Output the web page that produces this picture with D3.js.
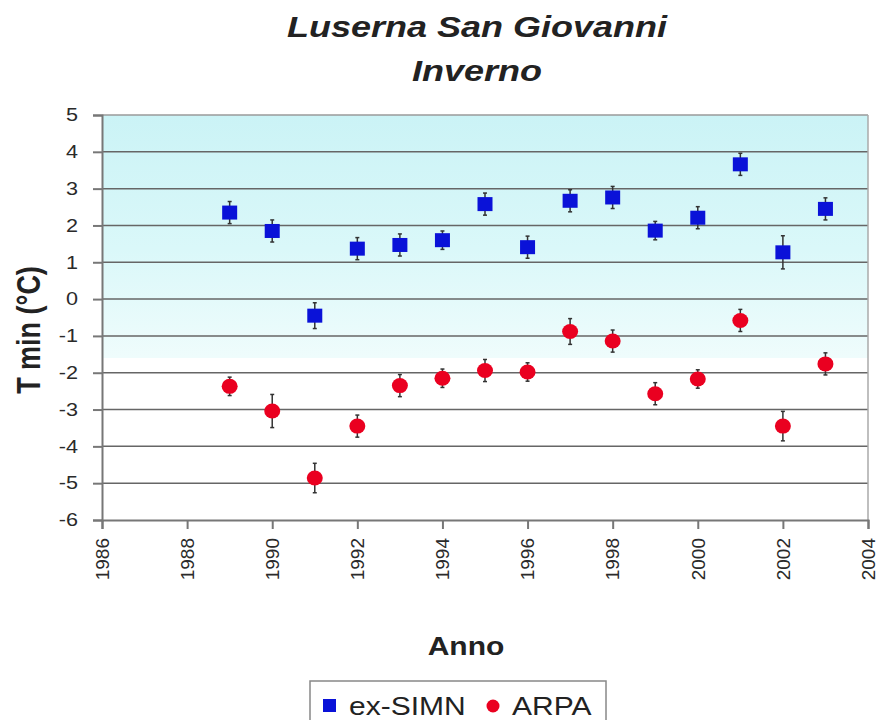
<!DOCTYPE html>
<html>
<head>
<meta charset="utf-8">
<script src="https://cdnjs.cloudflare.com/ajax/libs/d3/7.8.5/d3.min.js"></script>
<style>
  body { margin: 0; background: #fff; }
  text { font-family: "Liberation Sans", Arial, sans-serif; fill: #222; }
</style>
</head>
<body>
<div class="chart"></div>
<script>
// Data
var years = [1989, 1990, 1991, 1992, 1993, 1994, 1995, 1996, 1997, 1998, 1999, 2000, 2001, 2002, 2003];
var simnValues = [2.35, 1.85, -0.45, 1.37, 1.47, 1.6, 2.58, 1.41, 2.67, 2.76, 1.86, 2.21, 3.66, 1.27, 2.45];
var simnErrors = [0.3, 0.3, 0.35, 0.3, 0.3, 0.25, 0.3, 0.3, 0.3, 0.3, 0.25, 0.3, 0.3, 0.45, 0.3];
var arpaValues = [-2.37, -3.04, -4.86, -3.45, -2.35, -2.15, -1.94, -1.98, -0.88, -1.14, -2.57, -2.17, -0.58, -3.45, -1.76];
var arpaErrors = [0.25, 0.45, 0.4, 0.3, 0.3, 0.25, 0.3, 0.25, 0.35, 0.3, 0.3, 0.25, 0.3, 0.4, 0.3];
var xTicks = [1986, 1988, 1990, 1992, 1994, 1996, 1998, 2000, 2002, 2004];
var yTicks = [-6, -5, -4, -3, -2, -1, 0, 1, 2, 3, 4, 5];

var svgWidth = 878;
var svgHeight = 720;
var stretch = 1.2; // the picture is wider than tall, text looks stretched

var margin = { top: 115, right: 10, bottom: 200, left: 102 };
var width = svgWidth - margin.left - margin.right;
var height = svgHeight - margin.top - margin.bottom;

var svg = d3.select(".chart")
  .append("svg")
  .attr("width", svgWidth)
  .attr("height", svgHeight);

var defs = svg.append("defs");
var grad = defs.append("linearGradient")
  .attr("id", "bg")
  .attr("x1", 0).attr("y1", 0).attr("x2", 0).attr("y2", 1);
grad.append("stop").attr("offset", "0%").attr("stop-color", "#cbf3f6");
grad.append("stop").attr("offset", "55%").attr("stop-color", "#daf8f9");
grad.append("stop").attr("offset", "100%").attr("stop-color", "#effcfc");

var chartGroup = svg.append("g")
  .attr("transform", `translate(${margin.left}, ${margin.top})`);

// Scales
var xScale = d3.scaleLinear().domain([1986, 2004]).range([0, width]);
var yScale = d3.scaleLinear().domain([-6, 5]).range([height, 0]);

// Shaded background (upper part of plot area)
chartGroup.append("rect")
  .attr("x", 0)
  .attr("y", 0)
  .attr("width", width)
  .attr("height", yScale(-1.6))
  .attr("fill", "url(#bg)");

// Grid lines
chartGroup.selectAll(".grid")
  .data(yTicks.filter(d => d > -6))
  .enter()
  .append("line")
  .attr("class", "grid")
  .attr("x1", 0)
  .attr("x2", width)
  .attr("y1", d => yScale(d))
  .attr("y2", d => yScale(d))
  .attr("stroke", d => d === 5 ? "#9a9a9a" : "#666")
  .attr("stroke-width", 1.5);

// right border
chartGroup.append("line")
  .attr("x1", width).attr("x2", width)
  .attr("y1", 0).attr("y2", height)
  .attr("stroke", "#aaa")
  .attr("stroke-width", 1.5);

// Axes (plain hyphen for negatives, like the original)
var leftAxis = d3.axisLeft(yScale).tickValues(yTicks).tickSize(9).tickPadding(0)
  .tickFormat(d => String(d));
var bottomAxis = d3.axisBottom(xScale).tickValues(xTicks).tickSize(9)
  .tickFormat(d => String(d));

var yAxisG = chartGroup.append("g").call(leftAxis);
yAxisG.selectAll("text")
  .attr("x", -20)
  .attr("font-size", 18)
  .attr("transform", `scale(${stretch},1)`)
  .style("font-family", "Liberation Sans, Arial, sans-serif")
  .style("fill", "#2a2a2a");

var xAxisG = chartGroup.append("g")
  .attr("transform", `translate(0, ${height})`)
  .call(bottomAxis);
xAxisG.selectAll("text")
  .attr("x", -18)
  .attr("y", 0)
  .attr("dy", "0.33em")
  .attr("text-anchor", "end")
  .attr("font-size", 19)
  .attr("transform", "rotate(-90)")
  .style("font-family", "Liberation Sans, Arial, sans-serif")
  .style("fill", "#2a2a2a");

[yAxisG, xAxisG].forEach(function(g) {
  g.select(".domain").attr("stroke", "#777").attr("stroke-width", 2);
  g.selectAll(".tick line").attr("stroke", "#777").attr("stroke-width", 2);
});

// Error bars
function drawErrors(values, errors, cls) {
  var g = chartGroup.append("g").attr("class", cls);
  g.selectAll("line.bar")
    .data(years)
    .enter()
    .append("line")
    .attr("class", "bar")
    .attr("x1", d => xScale(d))
    .attr("x2", d => xScale(d))
    .attr("y1", (d, i) => yScale(values[i] + errors[i]))
    .attr("y2", (d, i) => yScale(values[i] - errors[i]))
    .attr("stroke", "#333")
    .attr("stroke-width", 1.5);
  [1, -1].forEach(function(s) {
    g.selectAll("line.cap" + s)
      .data(years)
      .enter()
      .append("line")
      .attr("x1", d => xScale(d) - 2)
      .attr("x2", d => xScale(d) + 2)
      .attr("y1", (d, i) => yScale(values[i] + s * errors[i]))
      .attr("y2", (d, i) => yScale(values[i] + s * errors[i]))
      .attr("stroke", "#333")
      .attr("stroke-width", 1.5);
  });
}
drawErrors(simnValues, simnErrors, "err-simn");
drawErrors(arpaValues, arpaErrors, "err-arpa");

// ex-SIMN squares
chartGroup.selectAll(".simn")
  .data(years)
  .enter()
  .append("rect")
  .attr("class", "simn")
  .attr("x", d => xScale(d) - 7.5)
  .attr("y", (d, i) => yScale(simnValues[i]) - 7)
  .attr("width", 15)
  .attr("height", 14)
  .attr("fill", "#0a12d8");

// ARPA circles
chartGroup.selectAll(".arpa")
  .data(years)
  .enter()
  .append("ellipse")
  .attr("class", "arpa")
  .attr("cx", d => xScale(d))
  .attr("cy", (d, i) => yScale(arpaValues[i]))
  .attr("rx", 8)
  .attr("ry", 7.5)
  .attr("fill", "#ea0020");

// Titles
function stretchedText(x, y, str, size, weight, style, anchor) {
  return svg.append("text")
    .attr("transform", `translate(${x}, ${y}) scale(${stretch},1)`)
    .attr("text-anchor", anchor || "middle")
    .attr("font-size", size)
    .attr("font-weight", weight)
    .attr("font-style", style)
    .text(str);
}
stretchedText(477, 37, "Luserna San Giovanni", 30, "bold", "italic");
stretchedText(477, 81, "Inverno", 30, "bold", "italic");
stretchedText(466, 655, "Anno", 25, "bold", "normal");

// y axis label
svg.append("text")
  .attr("transform", `translate(40, 330) scale(${stretch},1) rotate(-90)`)
  .attr("text-anchor", "middle")
  .attr("font-size", 27)
  .attr("font-weight", "bold")
  .text("T min (°C)");

// Legend
var legend = svg.append("g");
legend.append("rect")
  .attr("x", 310)
  .attr("y", 681)
  .attr("width", 296)
  .attr("height", 60)
  .attr("fill", "#fff")
  .attr("stroke", "#888")
  .attr("stroke-width", 1.5);
legend.append("rect")
  .attr("x", 323).attr("y", 699)
  .attr("width", 13).attr("height", 13)
  .attr("fill", "#0a12d8");
legend.append("circle")
  .attr("cx", 493).attr("cy", 706)
  .attr("r", 6.5)
  .attr("fill", "#ea0020");
stretchedText(349, 715, "ex-SIMN", 25, "normal", "normal", "start");
stretchedText(512, 715, "ARPA", 25, "normal", "normal", "start");
</script>
</body>
</html>
